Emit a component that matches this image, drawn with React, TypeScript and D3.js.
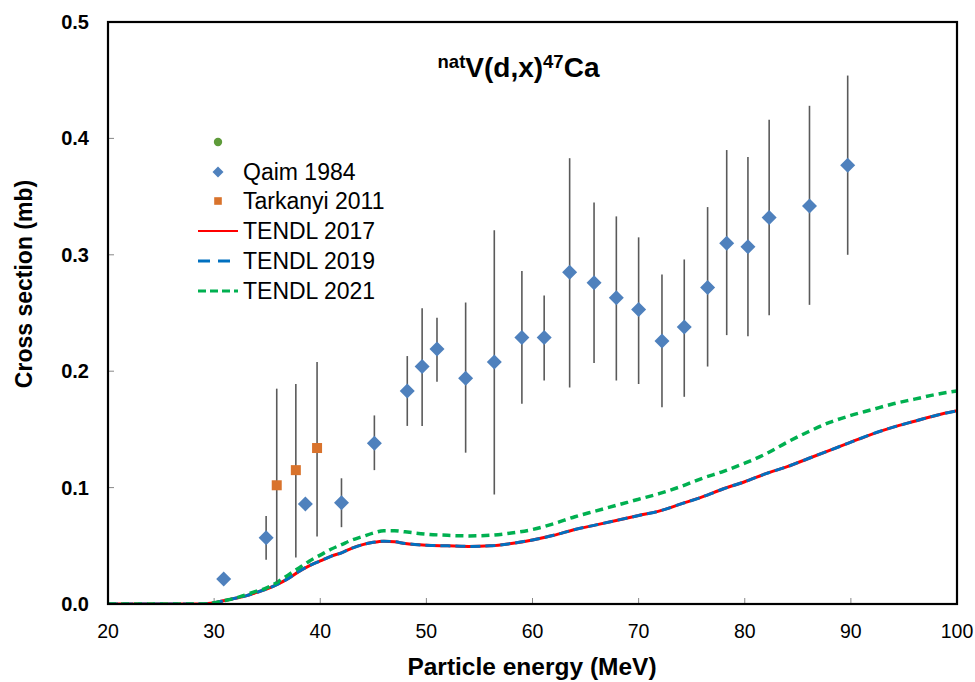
import React from "react";
import * as d3 from "d3";

const qaimE = [30.9, 34.9, 38.6, 42.0, 45.1, 48.2, 49.6, 51.0, 53.7, 56.4, 59.0, 61.1, 63.5, 65.8, 67.9, 70.0, 72.2, 74.3, 76.5, 78.3, 80.3, 82.3, 86.1, 89.7];
const qaimV = [0.0215, 0.057, 0.086, 0.087, 0.138, 0.183, 0.204, 0.219, 0.194, 0.208, 0.229, 0.229, 0.285, 0.276, 0.263, 0.253, 0.226, 0.238, 0.272, 0.310, 0.307, 0.332, 0.342, 0.377];
const qaimLo = [null, 0.038, null, 0.066, 0.115, 0.153, 0.153, 0.191, 0.130, 0.094, 0.172, 0.192, 0.186, 0.207, 0.192, 0.189, 0.169, 0.178, 0.204, 0.231, 0.230, 0.248, 0.257, 0.300];
const qaimHi = [null, 0.0756, null, 0.108, 0.162, 0.213, 0.254, 0.246, 0.259, 0.321, 0.286, 0.265, 0.383, 0.345, 0.333, 0.315, 0.283, 0.296, 0.341, 0.390, 0.384, 0.416, 0.428, 0.454];

const tarkE = [35.9, 37.7, 39.7];
const tarkV = [0.102, 0.115, 0.134];
const tarkLo = [0.019, 0.040, 0.058];
const tarkHi = [0.185, 0.189, 0.208];

const tendlE = [20, 24, 28, 29, 30, 31, 32, 33, 34, 35, 36, 37, 38, 39, 40, 41, 42, 43, 44, 45, 46, 47, 48, 50, 52, 54, 56, 58, 60, 62, 64, 66, 68, 70, 72, 74, 76, 78, 80, 82, 84, 86, 88, 90, 92, 94, 96, 98, 100];
const tendl2017 = [0, 0, 0, 0, 0.001, 0.003, 0.005, 0.007, 0.010, 0.013, 0.017, 0.022, 0.028, 0.033, 0.037, 0.041, 0.044, 0.048, 0.051, 0.053, 0.054, 0.0535, 0.052, 0.0505, 0.050, 0.0495, 0.050, 0.052, 0.055, 0.059, 0.064, 0.068, 0.072, 0.076, 0.080, 0.086, 0.092, 0.099, 0.105, 0.112, 0.118, 0.125, 0.132, 0.139, 0.146, 0.152, 0.157, 0.162, 0.166];
const tendl2019 = tendl2017.slice();
const tendl2021 = [0, 0, 0, 0, 0.001, 0.003, 0.005, 0.008, 0.011, 0.014, 0.019, 0.025, 0.031, 0.037, 0.042, 0.047, 0.051, 0.055, 0.058, 0.061, 0.063, 0.063, 0.062, 0.060, 0.059, 0.0585, 0.059, 0.061, 0.064, 0.069, 0.075, 0.080, 0.085, 0.090, 0.095, 0.101, 0.108, 0.114, 0.121, 0.129, 0.139, 0.148, 0.156, 0.162, 0.167, 0.172, 0.176, 0.180, 0.183];

const xTicks = [20, 30, 40, 50, 60, 70, 80, 90, 100];
const yTicks = [0, 0.1, 0.2, 0.3, 0.4, 0.5];
const legendLabels = ["", "Qaim 1984", "Tarkanyi 2011", "TENDL 2017", "TENDL 2019", "TENDL 2021"];

const W = 975, H = 682;
const M = { left: 108, right: 957, top: 22, bottom: 604 };
const FONT = "'Liberation Sans', Arial, sans-serif";

export default function App() {
  const x = d3.scaleLinear().domain([20, 100]).range([M.left, M.right]);
  const y = d3.scaleLinear().domain([0, 0.5]).range([M.bottom, M.top]);
  const line = (vals: number[]) =>
    d3.line<number>().x((_, i) => x(tendlE[i])).y((v) => y(v)).curve(d3.curveMonotoneX)(vals) as string;
  const diamond = (cx: number, cy: number, r: number) =>
    `M${cx},${cy - r}L${cx + r},${cy}L${cx},${cy + r}L${cx - r},${cy}Z`;

  const blue = "#4F81BD";
  const orange = "#D9732C";
  const errC = "#5a5a5a";
  const legY = [142, 172, 201, 231, 261, 291];

  return (
    <svg width={W} height={H} style={{ position: "absolute", left: 0, top: 0, background: "#fff" }} fontFamily={FONT}>
      <defs>
        <clipPath id="plotclip">
          <rect x={M.left} y={M.top} width={M.right - M.left} height={M.bottom - M.top} />
        </clipPath>
      </defs>
      {xTicks.map((t) => (
        <line key={"xt" + t} x1={x(t)} x2={x(t)} y1={M.bottom} y2={M.bottom - 6} stroke="#888" strokeWidth={1} />
      ))}
      {yTicks.map((t) => (
        <line key={"yt" + t} x1={M.left} x2={M.left + 6} y1={y(t)} y2={y(t)} stroke="#888" strokeWidth={1} />
      ))}
      <g clipPath="url(#plotclip)" fill="none">
        <path d={line(tendl2017)} stroke="#FF0000" strokeWidth={3} />
        <path d={line(tendl2019)} stroke="#0070C0" strokeWidth={3} strokeDasharray="10,5" />
        <path d={line(tendl2021)} stroke="#00B050" strokeWidth={3.5} strokeDasharray="8,5" />
      </g>
      {qaimE.map((e, i) =>
        qaimLo[i] != null ? (
          <line key={"qe" + i} x1={x(e)} x2={x(e)} y1={y(qaimLo[i] as number)} y2={y(qaimHi[i] as number)} stroke={errC} strokeWidth={1.6} />
        ) : null
      )}
      {tarkE.map((e, i) => (
        <line key={"te" + i} x1={x(e)} x2={x(e)} y1={y(tarkLo[i])} y2={y(tarkHi[i])} stroke={errC} strokeWidth={1.6} />
      ))}
      {qaimE.map((e, i) => (
        <path key={"q" + i} d={diamond(x(e), y(qaimV[i]), 7.5)} fill={blue} />
      ))}
      {tarkE.map((e, i) => (
        <rect key={"t" + i} x={x(e) - 5} y={y(tarkV[i]) - 5} width={10} height={10} fill={orange} />
      ))}
      <rect x={M.left} y={M.top} width={M.right - M.left} height={M.bottom - M.top} fill="none" stroke="#000" strokeWidth={2.2} />
      {xTicks.map((t) => (
        <text key={"xl" + t} x={x(t)} y={638} textAnchor="middle" fontSize={19.5} fill="#000">{t}</text>
      ))}
      {yTicks.map((t) => (
        <text key={"yl" + t} x={89} y={y(t) + 7} textAnchor="end" fontSize={20} fontWeight="bold" fill="#000">{t.toFixed(1)}</text>
      ))}
      <text x={532} y={675} textAnchor="middle" fontSize={24.5} fontWeight="bold">Particle energy (MeV)</text>
      <text transform={`translate(32,284) rotate(-90)`} textAnchor="middle" fontSize={23} fontWeight="bold">Cross section (mb)</text>
      <text x={518.5} y={77} textAnchor="middle" fontSize={28} fontWeight="bold">
        <tspan fontSize={18.5} dy={-9}>nat</tspan>
        <tspan dy={9}>V(d,x)</tspan>
        <tspan fontSize={18.5} dy={-9}>47</tspan>
        <tspan dy={9}>Ca</tspan>
      </text>
      <g>
        <circle cx={218} cy={legY[0]} r={4.2} fill="#5E9B3A" />
        <path d={diamond(218, legY[1], 5.5)} fill={blue} />
        <rect x={214.2} y={legY[2] - 3.8} width={7.6} height={7.6} fill={orange} />
        <line x1={198} x2={238} y1={legY[3]} y2={legY[3]} stroke="#FF0000" strokeWidth={2} />
        <line x1={198} x2={238} y1={legY[4]} y2={legY[4]} stroke="#0070C0" strokeWidth={3} strokeDasharray="12,8" />
        <line x1={198} x2={238} y1={legY[5]} y2={legY[5]} stroke="#00B050" strokeWidth={3} strokeDasharray="8,4" />
        {legendLabels.map((l, i) => (
          <text key={"lg" + i} x={243} y={legY[i] + 8} fontSize={23} fill="#000">{l}</text>
        ))}
      </g>
    </svg>
  );
}
